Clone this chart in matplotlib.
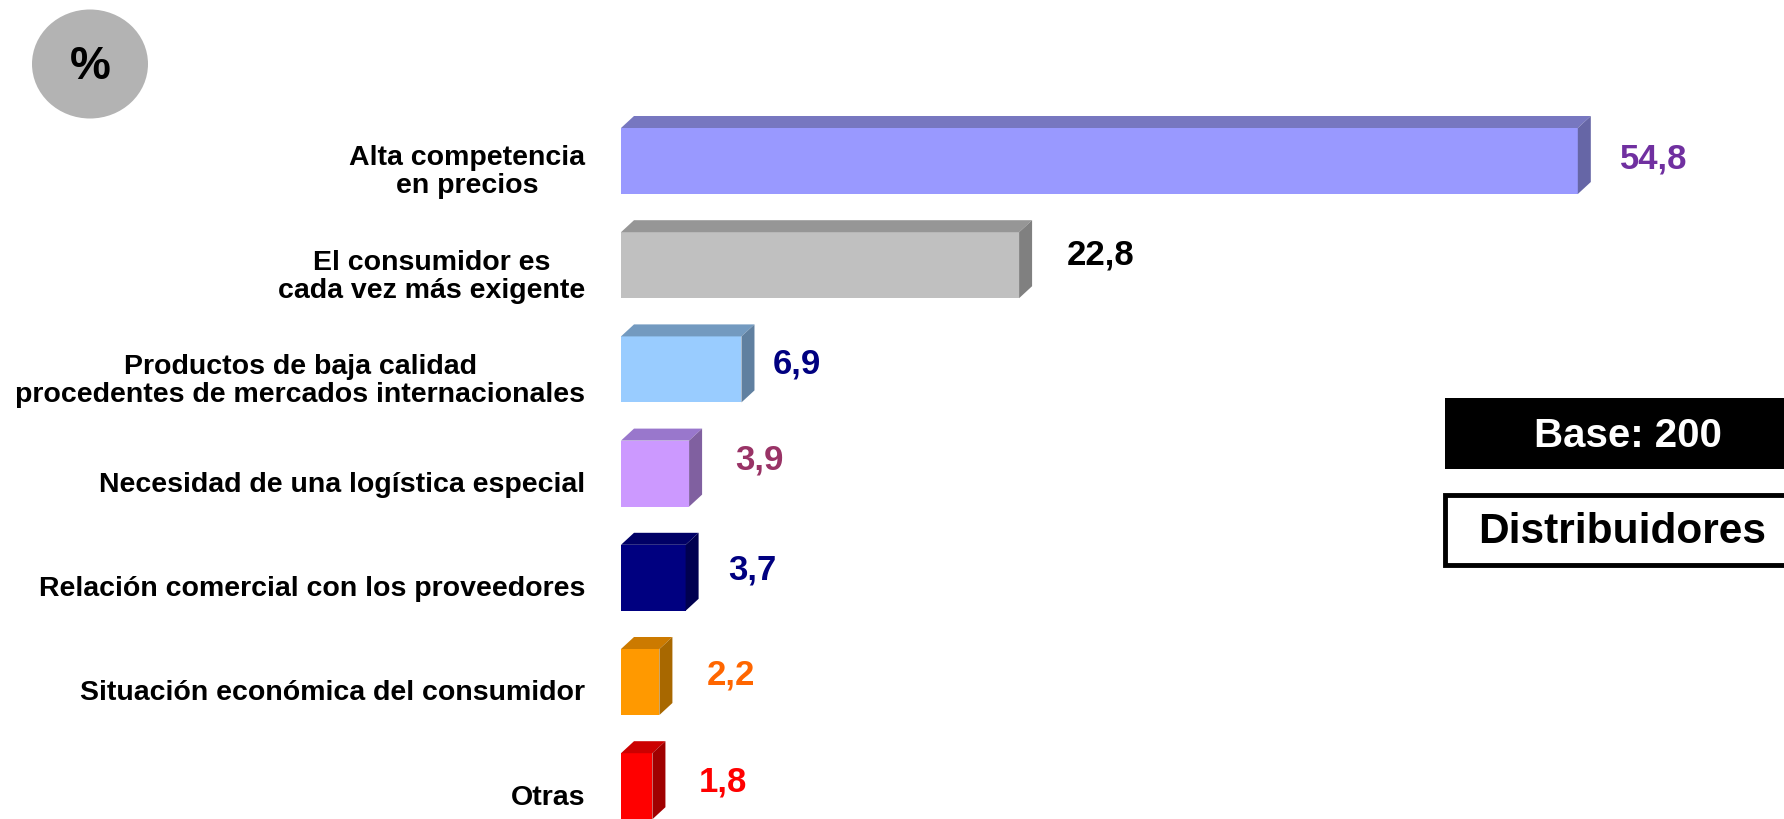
import matplotlib.pyplot as plt
from matplotlib.patches import Polygon, Ellipse, Rectangle
from matplotlib.transforms import ScaledTranslation

plt.rcParams['font.family'] = ['Liberation Sans', 'DejaVu Sans']

# data
categories = ['Alta competencia\nen precios',
              'El consumidor es\ncada vez más exigente',
              'Productos de baja calidad\nprocedentes de mercados internacionales',
              'Necesidad de una logística especial',
              'Relación comercial con los proveedores',
              'Situación económica del consumidor',
              'Otras']
values = [54.8, 22.8, 6.9, 3.9, 3.7, 2.2, 1.8]
value_labels = ['54,8', '22,8', '6,9', '3,9', '3,7', '2,2', '1,8']

# styles
front = ['#9999FF', '#C0C0C0', '#99CCFF', '#CC99FF', '#000080', '#FF9900', '#FF0000']
top = ['#7777C0', '#969696', '#739AC0', '#9977CC', '#000066', '#CC7A00', '#CC0000']
side = ['#6666A6', '#808080', '#6080A0', '#8060A0', '#000050', '#A86800', '#A00000']
text_col = ['#7030A0', '#000000', '#000080', '#993366', '#000080', '#FF6600', '#FF0000']
lab_dx = [29, 35, 18, 33, 30, 34, 33]      # px gap after the bar
lab_dy = [3, 11, 6, 15, 9, 8, 5]           # px shift up

W, H = 1784, 820
fig = plt.figure(figsize=(W / 100, H / 100), dpi=100)

# main axes in value / row units
px_unit = 17.46
x0 = 621
row0, row_step = 162, 104.2
ax = fig.add_axes([0, 0, 1, 1])
ax.set_xlim(-x0 / px_unit, (W - x0) / px_unit)
ax.set_ylim((H - row0) / row_step, -row0 / row_step)
ax.axis('off')

bh = 66 / row_step
ddx = 13 / px_unit
ddy = 12 / row_step
rows = list(range(len(values)))

ax.barh(rows, values, height=bh, left=0, color=front, zorder=2)
for i, v in enumerate(values):
    yt = i - bh / 2
    yb = i + bh / 2
    ax.add_patch(Polygon([(0, yt), (v, yt), (v + ddx, yt - ddy), (ddx, yt - ddy)],
                         closed=True, color=top[i], lw=0, zorder=2))
    ax.add_patch(Polygon([(v, yt), (v + ddx, yt - ddy), (v + ddx, yb - ddy), (v, yb)],
                         closed=True, color=side[i], lw=0, zorder=2))
    # category label
    ax.text(-36 / px_unit, i + 0.1, categories[i], ha='right', va='center',
            multialignment='center', fontsize=20.5, fontweight='bold',
            linespacing=1.1)
    # value label
    off = ScaledTranslation(lab_dx[i] / 100, lab_dy[i] / 100, fig.dpi_scale_trans)
    ax.text(v + ddx, i, value_labels[i], ha='left', va='center',
            fontsize=25, fontweight='bold', color=text_col[i],
            transform=ax.transData + off)

# decorations in pixel units
ov = fig.add_axes([0, 0, 1, 1], facecolor='none')
ov.set_xlim(0, W)
ov.set_ylim(H, 0)
ov.axis('off')

ov.add_patch(Ellipse((90, 65), 116, 109, color='#B3B3B3', lw=0))
ov.text(90, 67, '%', ha='center', va='center', fontsize=33, fontweight='bold')

ov.add_patch(Rectangle((1445, 399), 345, 71, color='black', lw=0))
ov.text(1628, 436, 'Base: 200', ha='center', va='center', color='white',
        fontsize=29, fontweight='bold')

ov.add_patch(Rectangle((1445, 496), 345, 70, facecolor='white',
                       edgecolor='black', lw=3.5))
ov.text(1622, 532, 'Distribuidores', ha='center', va='center',
        fontsize=30.5, fontweight='bold')

fig.savefig('out.png', dpi=100)
